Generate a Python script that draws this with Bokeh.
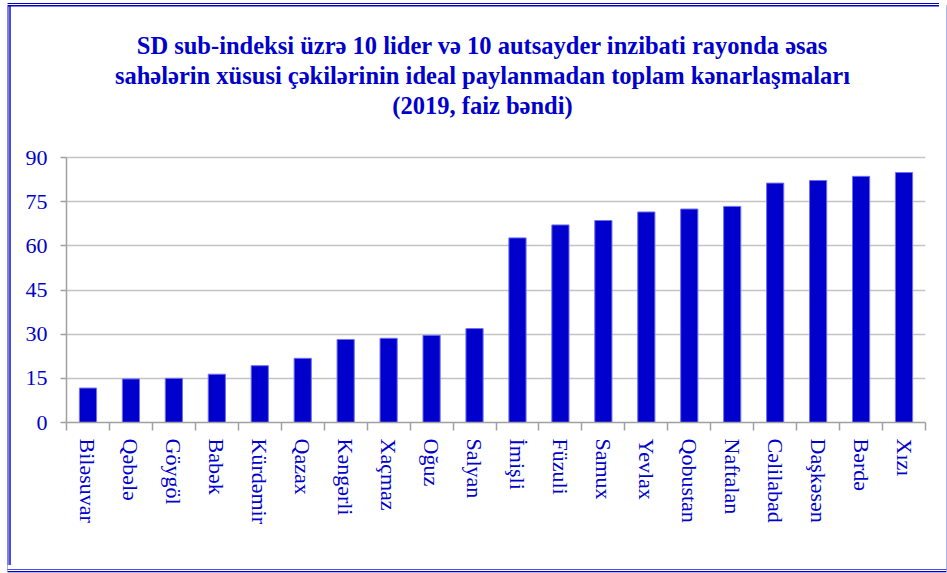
from bokeh.plotting import figure
from bokeh.models import Range1d, FixedTicker, Label
from bokeh.embed import file_html
from bokeh.resources import INLINE

districts = ["Biləsuvar", "Qəbələ", "Göygöl", "Babək", "Kürdəmir", "Qazax", "Kəngərli",
             "Xaçmaz", "Oğuz", "Salyan", "İmişli", "Füzuli", "Samux", "Yevlax", "Qobustan",
             "Naftalan", "Cəlilabad", "Daşkəsən", "Bərdə", "Xızı"]
values = [11.7, 14.8, 15.0, 16.4, 19.3, 21.8, 28.2, 28.6, 29.6, 31.9,
          62.7, 67.1, 68.6, 71.5, 72.5, 73.4, 81.3, 82.2, 83.6, 84.9]
y_ticks = [0, 15, 30, 45, 60, 75, 90]
title_lines = ["SD sub-indeksi üzrə 10 lider və 10 autsayder inzibati rayonda əsas",
               "sahələrin xüsusi çəkilərinin ideal paylanmadan toplam kənarlaşmaları",
               "(2019, faiz bəndi)"]

BLUE = "#0000CC"
FONT = "Liberation Serif"

n = len(districts)
xs = list(range(n))

W, H = 939, 565
FRAME_LEFT, FRAME_RIGHT, FRAME_BOTTOM = 66, 925, 422
PX_PER_UNIT = 265.0 / 90.0          # 0 -> 422px, 90 -> 157px
y_top = FRAME_BOTTOM / PX_PER_UNIT   # frame reaches canvas top; room for the title

p = figure(width=W, height=H, output_backend="svg", toolbar_location=None, title=None,
           x_range=Range1d(-0.5, n - 0.5), y_range=Range1d(0, y_top),
           min_border_left=FRAME_LEFT, min_border_right=W - FRAME_RIGHT,
           min_border_top=0, min_border_bottom=H - FRAME_BOTTOM)
p.border_fill_color = None
p.background_fill_color = None
p.outline_line_color = None

shadow = ", ".join([
    "inset 7.5px 0 0 #ffffff",
    "inset 0 3px 0 #ffffff", "inset 0 4px 0 #0000CC",
    "inset 0 5px 0 #ffffff", "inset 0 6.5px 0 #0000CC",
    "inset 8.5px 0 0 #0000CC", "inset 9.3px 0 0 #ffffff", "inset 10.7px 0 0 #0000CC",
    "7.5px 4.3px 0 #ffffff", "7.5px 5px 0 #0000CC",
    "7.5px 6px 0 #ffffff", "7.5px 7.3px 0 #0000CC",
])
p.styles = {"box-shadow": shadow}

p.vbar(x=xs, top=values, width=0.4, fill_color=BLUE, line_color="#7070F0", line_width=1)

# title lines (inside the extended frame area above 90)
units_per_px_x = n / (FRAME_RIGHT - FRAME_LEFT)
title_cx = -0.5 + (482 - FRAME_LEFT) * units_per_px_x
for i, line in enumerate(title_lines):
    py = 45 + 30 * i
    p.add_layout(Label(x=title_cx, y=(FRAME_BOTTOM - py) / PX_PER_UNIT, text=line,
                       text_align="center", text_baseline="middle",
                       text_font=FONT, text_font_size="24.5px", text_font_style="bold",
                       text_color=BLUE))

# x axis
xa = p.xaxis[0]
xa.ticker = FixedTicker(ticks=xs, minor_ticks=[i - 0.5 for i in range(n + 1)])
xa.major_label_overrides = {i: d for i, d in enumerate(districts)}
xa.major_label_orientation = "vertical"
xa.major_tick_in = 0
xa.major_tick_out = 0
xa.minor_tick_in = 0
xa.minor_tick_out = 8
xa.minor_tick_line_color = "#A0A0A0"
xa.minor_tick_line_width = 1.5
xa.axis_line_color = "#A0A0A0"
xa.axis_line_width = 1.5
xa.major_label_text_font = FONT
xa.major_label_text_font_size = "22px"
xa.major_label_text_color = BLUE
xa.major_label_standoff = 8

# y axis
ya = p.yaxis[0]
ya.ticker = FixedTicker(ticks=y_ticks)
ya.bounds = (0, 90)
ya.major_tick_in = 0
ya.major_tick_out = 6
ya.minor_tick_line_color = None
ya.major_tick_line_color = "#A0A0A0"
ya.major_tick_line_width = 1.5
ya.axis_line_color = "#A0A0A0"
ya.axis_line_width = 1.5
ya.major_label_text_font = FONT
ya.major_label_text_font_size = "22px"
ya.major_label_text_color = BLUE
ya.major_label_standoff = 13

p.xgrid.grid_line_color = None
p.ygrid.grid_line_color = "#C4C4C4"
p.ygrid.grid_line_width = 1.5
p.ygrid.ticker = FixedTicker(ticks=y_ticks)

open("out.html", "w").write(file_html(p, INLINE))
